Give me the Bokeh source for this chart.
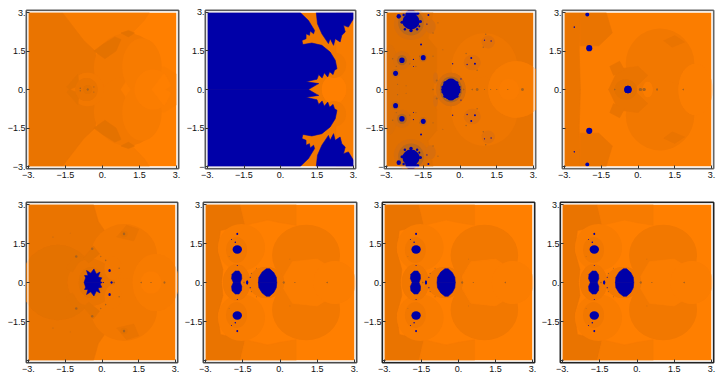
from bokeh.plotting import figure
from bokeh.layouts import column, row
from bokeh.models import FixedTicker
from bokeh.embed import file_html
from bokeh.resources import INLINE

BLUE = "#0000A8"
L0 = "#FF7F00"; L1 = "#FB7D00"; M1 = "#F77B00"; M2 = "#F27800"; D1 = "#EA7400"; D2 = "#E47200"; D3 = "#DD6F04"

TICKS = [-3, -1.5, 0, 1.5, 3]
X_LABELS = ["\u22123.", "\u22121.5", "0.", "1.5", "3."]
Y_LABELS = [
    ["\u22123.", "\u22121.5", "0.", "1.5", "3."],
    ["\u2212", "\u22121.5", "0.", "1.5", "3."],
    ["\u2212", "\u22121.5", "0.", "1.5", "3."],
    ["", "", "0.", "1.5", "3."],
    ["", "\u22121.5", "0.", "1.5", "3."],
    ["", "\u22121.5", "0.", "1.5", "3."],
    ["", "\u22121.5", "0.", "1.5", "3."],
    ["", "\u22121.5", "0.", "1.5", "3."],
]

# Upper-half shapes; every one is painted with its mirror in y=0.
p1_regions = [
    ("p", [-1.63, 1.9, 1.7, 1.0, -0.4, -1.0], [3, 3, 2.7, 2.0, 1.4, 2.0], M1),
    ("p", [-3, -1.63, -1.15, -0.75, -0.3, 0.0, -3], [3, 3, 2.4, 1.9, 1.5, 0, 0], D1),
    ("d", 1.0, 0.85, 2.7, 2.7, M2),
    ("p", [0.75, 1.3, 2.5, 3.0, 3.0, 0.75], [0, 0.8, 0.9, 0.6, 0, 0], L1),
    ("d", 1.6, 0.9, 1.6, 2.2, M1),
    ("d", 2.05, 0, 1.5, 1.55, L1),
    ("p", [2.0, 2.5, 2.77, 2.55, 2.0], [0, 0.62, 0.15, 0, 0], L0),
    ("p", [-0.35, 0.0, 0.5, 0.75, 0.55, 0.1], [1.5, 1.75, 2.05, 1.95, 1.5, 1.2], D2),
    ("p", [0.75, 1.05, 1.3, 1.05], [2.2, 2.3, 2.2, 2.05], D2),
    ("d", -0.6, 0, 1.3, 1.3, M2),
    ("p", [-1.45, -1.0, -0.95, -1.35], [0.1, 0.6, 0.15, 0.0], D2),
    ("d", -0.65, 0, 0.9, 0.9, D1),
    ("d", -0.6, 0, 0.35, 0.35, D2),
]
p1_blue_polys = []
p1_blue_dots = []
p1_specks = [(-0.6, 0, 0.08), (-0.9, 0.05, 0.06), (-0.35, 0.1, 0.05)]

p2_regions = [
    ("p", [2.3, 3, 3, 2.3], [3, 3, 0, 0], "#F87C00"),
    ("d", 2.2, 0, 1.0, 1.1, L0),
    ("d", 2.2, 0.95, 1.0, 1.0, "#F27900"),
]
p2_blue_polys = [
    ([-3, 0.81, 1.15, 1.40, 1.36, 1.22, 1.19, 1.05, 1.05, 0.88, 0.92, 1.29, 1.70, 2.04, 2.25, 2.32,
      2.22, 2.16, 2.02, 1.94, 1.80, 1.71, 1.57, 1.50, 1.30, 1.05, 1.57, 1.49, 1.15, -3],
     [3, 3, 2.69, 2.30, 2.17, 2.28, 2.11, 2.17, 1.98, 1.91, 1.75, 1.81, 1.72, 1.46, 1.14, 0.81,
      0.75, 0.58, 0.69, 0.49, 0.65, 0.45, 0.58, 0.40, 0.36, 0.30, 0.23, 0.19, 0, 0]),
    ([1.47, 1.52, 1.70, 1.97, 2.04, 2.18, 2.25, 2.45, 2.52, 2.66, 2.59, 2.79, 3.0, 3.0],
     [3, 2.56, 2.17, 1.79, 1.98, 1.72, 1.98, 1.85, 2.11, 2.24, 2.5, 2.43, 2.76, 3]),
]
p2_blue_dots = []
p2_specks = [(-1.5, 0, 0.07, M2), (0.46, 1.82, 0.08, D1), (0.5, 1.72, 0.06, D1), (0.78, 1.33, 0.05, D1)]

p3_regions = [
    ("p", [-3, -1.1, -1.3, -0.95, -0.95, -1.1, -3], [3, 3, 2.0, 1.6, 0.8, 0, 0], "#E17000"),
    ("d", -2.85, 0, 0.8, 3.5, D3),
    ("d", 1.0, 0.85, 2.7, 2.7, "#EE7600"),
    ("d", 2.3, 0, 2.3, 2.2, M1),
    ("d", 2.0, 0, 0.82, 0.82, "#FA7C00"),
    ("d", -0.37, 0, 1.2, 1.3, "#D86E0A"),
    ("d", -0.37, 0, 0.9, 1.0, "#B0661E"),
    ("d", -2.0, 2.55, 1.4, 1.25, "#D86E0A"),
    ("d", -2.0, 2.6, 1.05, 1.0, "#BC681A"),
    ("d", -2.37, 1.14, 0.72, 0.72, "#D86E0A"),
    ("d", -2.37, 1.14, 0.4, 0.4, "#B4661C"),
    ("d", -1.5, 1.24, 0.32, 0.34, "#CC6C12"),
    ("d", -2.63, 0.63, 0.32, 0.34, "#CC6C10"),
    ("d", 0.5, 1.05, 0.7, 0.6, "#E27108"),
    ("d", 1.15, 1.85, 0.55, 0.5, "#E27108"),
    ("d", -1.2, 2.45, 0.42, 0.55, "#D86E0C"),
    ("d", -1.0, 0.45, 0.2, 0.45, "#D86E0C"),
]
p3_blue_polys = []
p3_blue_dots = [
    (-0.37, 0, 0.72, 0.82), (-0.37, 0.38, 0.24, 0.1), (-0.62, 0.26, 0.12, 0.12), (-0.12, 0.26, 0.12, 0.12),
    (-0.72, 0.1, 0.08, 0.1), (-0.02, 0.1, 0.08, 0.1), (-0.72, -0.0, 0.08, 0.12), (-0.02, 0.0, 0.08, 0.12),
    (-2.0, 2.65, 0.7, 0.62), (-2.0, 2.92, 0.46, 0.4), (-2.0, 2.3, 0.14, 0.14), (-2.36, 2.62, 0.14, 0.12),
    (-1.62, 2.65, 0.14, 0.12), (-2.25, 2.35, 0.1, 0.1), (-1.75, 2.35, 0.1, 0.1), (-2.3, 2.9, 0.1, 0.1),
    (-2.5, 2.85, 0.18, 0.18), (-1.73, 2.97, 0.14, 0.14), (-1.29, 2.9, 0.08, 0.08),
    (-1.66, 2.46, 0.08, 0.08), (-1.59, 1.75, 0.08, 0.08), (-2.37, 1.14, 0.22, 0.22), (-1.5, 1.24, 0.2, 0.2),
    (-2.63, 0.63, 0.2, 0.2), (-0.3, 1.0, 0.05, 0.06), (0.46, 1.23, 0.08, 0.08), (0.61, 1.0, 0.08, 0.08),
    (0.29, 0.97, 0.05, 0.06), (1.27, 1.89, 0.05, 0.06), (1.0, 1.92, 0.05, 0.05), (0.04, 0.41, 0.05, 0.05),
    (-1.9, 1.17, 0.05, 0.05), (-1.9, 0.9, 0.04, 0.04), (-1.35, 2.55, 0.05, 0.05),
]
p3_specks = [(0.7, 0, 0.1), (0.5, 0, 0.05), (1.5, 0, 0.04), (1.95, 0, 0.04), (2.55, 0, 0.1), (1.0, 0, 0.04), (1.25, 0, 0.04),
             (0.15, 0, 0.05), (-1.1, 0, 0.05), (1.05, 2.15, 0.06), (0.95, 1.65, 0.06), (0.25, 1.4, 0.06), (0.7, 0.75, 0.06),
             (-0.95, 0.35, 0.08), (-1.1, 1.3, 0.05), (-2.75, 1.2, 0.06), (-2.05, 1.0, 0.05), (-1.8, 0.9, 0.05), (-1.65, 1.3, 0.05),
             (-1.1, 2.2, 0.06), (-0.9, 2.6, 0.05), (-2.6, 0.9, 0.05), (-2.55, 0.2, 0.05), (-2.2, 0.15, 0.04), (-0.7, 1.55, 0.04)]

p4_regions = [
    ("p", [-3, -2.35, -2.4, -2.35, -3], [3, 3, 1.5, 0, 0], D1),
    ("p", [-2.35, -1.3, -1.05, -1.6, -2.35], [3, 3, 2.2, 1.7, 1.7], D1),
    ("d", 0.9, 1.0, 2.8, 2.75, M2),
    ("d", 2.35, 0, 1.4, 2.0, L1),
    ("p", [-1.2, -0.8, 0, 0.4, -0.2, -0.9], [0, 0.8, 0.9, 0.55, 0, 0], D1),
    ("d", -0.5, 0, 0.9, 0.8, D2),
    ("d", 0.4, 0, 0.4, 0.6, L1),
    ("p", [1.05, 1.5, 1.9, 1.4], [1.9, 2.1, 1.85, 1.65], D1),
    ("p", [-1.15, -0.75, -0.55, -1.0], [0.9, 1.1, 0.75, 0.55], D1),
]
p4_blue_polys = []
p4_blue_dots = [(-0.41, 0, 0.3, 0.3), (-1.99, 1.61, 0.25, 0.24), (-2.07, 2.92, 0.16, 0.16), (-2.6, 2.43, 0.06, 0.06)]
p4_specks = [(0.1, 0, 0.12), (0.25, 0, 0.12), (0.78, 0, 0.07), (1.85, 0, 0.06), (-0.95, 0, 0.05)]

p5_regions = [
    ("p", [-3, -0.35, -0.15, 0.1, 0.1, -3], [3, 3, 2.35, 2.0, 0, 0], D1),
    ("d", -1.8, 0, 3.0, 2.9, D2),
    ("d", 0.9, 1.05, 2.7, 2.4, M2),
    ("d", 2.2, 0, 1.9, 2.2, M1),
    ("d", 2.0, 0, 0.85, 0.85, L1),
    ("p", [0.6, 1.0, 1.5, 1.3], [1.75, 2.2, 2.05, 1.6], D1),
    ("d", 0.9, 1.87, 0.3, 0.25, D2),
    ("d", -0.45, 0, 1.9, 1.8, D1),
    ("p", [-1.5, -1.1, -0.8, -1.2], [0.55, 1.05, 1.0, 0.4], D2),
    ("p", [-0.75, -0.35, -0.1, -0.55], [0.95, 1.4, 1.1, 0.75], D2),
    ("d", 0.45, 0.55, 0.7, 0.9, M2),
    ("d", -0.45, 0, 1.0, 1.2, D2),
]
p5_blue_polys = [
    ([-0.73, -0.67, -0.71, -0.57, -0.63, -0.46, -0.33, -0.23, -0.08, -0.16, -0.01, -0.08, 0.0],
     [0, 0.18, 0.27, 0.27, 0.46, 0.36, 0.52, 0.33, 0.40, 0.21, 0.18, 0.05, 0]),
]
p5_blue_dots = [(0.31, 0.46, 0.1, 0.12), (0.39, 0, 0.08, 0.08), (0.05, 0.0, 0.04, 0.04)]
p5_specks = [(0.9, 1.87, 0.1), (-0.4, 1.3, 0.1), (-1.05, 1.0, 0.1), (0.5, 0, 0.06), (1.6, 0, 0.05), (2.0, 0, 0.04), (2.55, 0, 0.07), (0.7, 0.55, 0.06), (0.15, 0.85, 0.06), (-0.05, 1.0, 0.05), (-2.0, 1.75, 0.04), (-1.3, 1.9, 0.03)]

# panels 6, 7 and 8 show the same figure
p6_regions = [
    ("p", [-3, -1.6, -1.4, -2.4, -2.5, -2.3, -2.35, -3], [3, 3, 2.2, 2.0, 1.2, 0.5, 0, 0], D1),
    ("p", [-1.6, 0.65, 0.65, 0.0, -0.5, -1.4], [3, 3, 2.2, 2.3, 2.4, 2.2], M1),
    ("d", -1.55, 1.35, 1.9, 1.8, "#F97C00"),
    ("d", 1.05, 1.05, 2.74, 2.35, M2),
    ("p", [0.0, 0.5, 1.5, 2.0, 2.1, 1.6, 0.6], [0, 0.8, 0.9, 0.6, 0, 0, 0], L1),
    ("d", 2.2, 0, 1.7, 1.65, L1),
    ("d", -1.75, 1.25, 0.85, 1.0, M2),
    ("d", -1.75, 0, 1.1, 1.4, M2),
    ("d", -0.55, 0, 1.45, 1.2, M2),
]
p6_blue_polys = [
    ([-0.87, -0.85, -0.72, -0.55, -0.42, -0.25, -0.15, -0.13], [0, 0.2, 0.4, 0.53, 0.53, 0.38, 0.2, 0]),
    ([-1.88, -1.95, -1.93, -1.8, -1.65, -1.55, -1.54, -1.6], [0, 0.15, 0.32, 0.44, 0.44, 0.3, 0.15, 0]),
]
p6_blue_dots = [(-1.72, 1.27, 0.38, 0.32), (-1.72, 1.87, 0.08, 0.08), (-1.8, 1.55, 0.06, 0.06), (-1.32, 0, 0.08, 0.16), (-1.2, 0.2, 0.04, 0.05), (-1.72, 0.65, 0.04, 0.04), (-1.95, 1.65, 0.04, 0.04)]
p6_specks = [(0.15, 0, 0.08), (0.6, 0, 0.04), (1.9, 0, 0.05), (-1.45, 0, 0.05), (-1.15, 0.35, 0.05), (-0.95, 0.55, 0.04), (-2.05, 1.0, 0.03), (0.4, 0.9, 0.03)]

REGIONS = [p1_regions, p2_regions, p3_regions, p4_regions, p5_regions, p6_regions, p6_regions, p6_regions]
BLUE_POLYS = [p1_blue_polys, p2_blue_polys, p3_blue_polys, p4_blue_polys, p5_blue_polys, p6_blue_polys, p6_blue_polys, p6_blue_polys]
BLUE_DOTS = [p1_blue_dots, p2_blue_dots, p3_blue_dots, p4_blue_dots, p5_blue_dots, p6_blue_dots, p6_blue_dots, p6_blue_dots]
SPECKS = [p1_specks, p2_specks, p3_specks, p4_specks, p5_specks, p6_specks, p6_specks, p6_specks]
BASE = ["#FF7F00", "#F27900", "#E87300", "#FB7D00", "#FA7D00", "#FF7F00", "#FF7F00", "#FF7F00"]
OUTLINE = ["#5a5a5a", "#5a5a5a", "#666666", "#666666", "#4a4a4a", "#4a4a4a", "#222222", "#222222"]

# window-pixel geometry of the square data area: left, right, top, bottom, and the figure's box
GEOM = [
    (28, 176, 12, 166, 0, 181, 0, 188),
    (207, 353, 12, 167, 181, 360, 0, 188),
    (386, 533, 12, 166.5, 360, 538, 0, 188),
    (564.5, 711, 12, 166, 538, 720, 0, 188),
    (28, 175, 204, 360, 0, 181, 188, 376),
    (205, 353.7, 204, 360, 181, 360, 188, 376),
    (383.7, 532, 204, 360, 360, 538, 188, 376),
    (562, 711, 204, 360, 538, 720, 188, 376),
]
PAD = 2


def mirrored(ys):
    return [-v for v in ys]


def panel(i):
    L, R, T, B, x0, x1, y0, y1 = [round(v) for v in GEOM[i]]
    padx = PAD * 6 / (R - L)
    pady = PAD * 6 / (B - T)
    p = figure(width=x1 - x0, height=y1 - y0, x_range=(-3 - padx, 3 + padx), y_range=(-3 - pady, 3 + pady),
               toolbar_location=None, output_backend="svg",
               min_border_left=L - PAD - x0, min_border_right=x1 - R - PAD,
               min_border_top=T - PAD - y0, min_border_bottom=y1 - B - PAD)
    p.grid.visible = False
    p.background_fill_color = "white"
    p.outline_line_color = OUTLINE[i]
    p.outline_line_width = 2
    p.quad(left=[-3], right=[3], bottom=[-3], top=[3], fill_color=BASE[i], line_color=None)
    for reg in REGIONS[i]:
        if reg[0] == "p":
            _, xs, ys, c = reg
            p.patches([xs, xs], [ys, mirrored(ys)], fill_color=c, line_color=c, line_width=0.6)
        else:
            _, x, y, w, h, c = reg
            p.ellipse([x, x], [y, -y], width=w, height=h, fill_color=c, line_color=None)
    for sp in SPECKS[i]:
        c = sp[3] if len(sp) > 3 else "#A8621E"
        p.ellipse([sp[0], sp[0]], [sp[1], -sp[1]], width=sp[2], height=sp[2], fill_color=c, line_color=None)
    for xs, ys in BLUE_POLYS[i]:
        p.patches([xs, xs], [ys, mirrored(ys)], fill_color=BLUE, line_color=BLUE, line_width=0.6)
    for x, y, w, h in BLUE_DOTS[i]:
        p.ellipse([x, x], [y, -y], width=w, height=h, fill_color=BLUE, line_color=None)
    # white gap between the picture and the frame
    ox, oy = 3 + padx * 0.6, 3 + pady * 0.6
    p.quad(left=[-ox, 3, -ox, -ox], right=[-3, ox, ox, ox], bottom=[-oy, -oy, 3, -oy], top=[oy, oy, oy, -3],
           fill_color="white", line_color=None)
    for ax, labels in ((p.xaxis[0], X_LABELS), (p.yaxis[0], Y_LABELS[i])):
        ax.ticker = FixedTicker(ticks=TICKS)
        ax.major_label_overrides = dict(zip(TICKS, labels))
        ax.axis_line_color = None
        ax.major_tick_line_color = "#333333"
        ax.major_tick_in = 3
        ax.major_tick_out = 0
        ax.minor_tick_line_color = None
        ax.major_label_text_font = "Liberation Sans"
        ax.major_label_text_font_size = "9px"
        ax.major_label_text_color = "#111111"
    p.xaxis[0].major_label_standoff = 3
    p.yaxis[0].major_label_standoff = 1
    return p


figs = [panel(i) for i in range(8)]
layout = column(row(*figs[:4], spacing=0), row(*figs[4:], spacing=0), spacing=0)
open("out.html", "w").write(file_html(layout, INLINE))
